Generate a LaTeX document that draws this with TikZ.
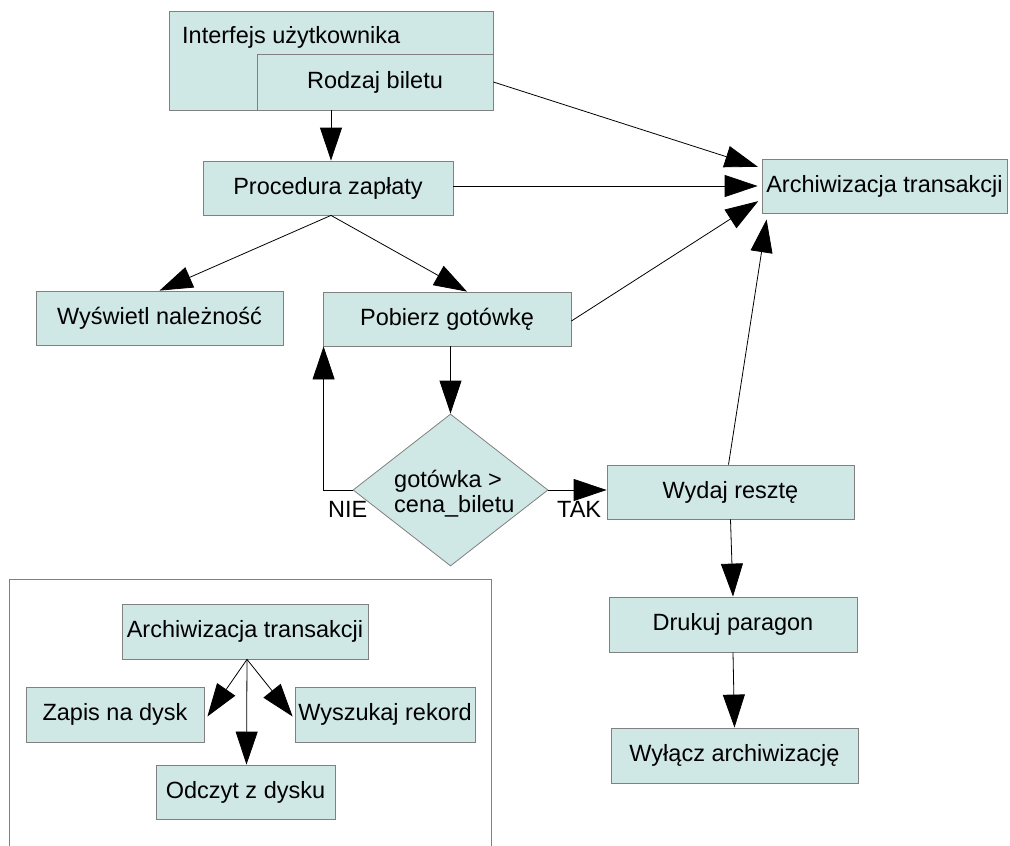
\documentclass[tikz,border=0pt]{standalone}
\usepackage{fontspec}
\setmainfont{Liberation Sans}
\usetikzlibrary{arrows.meta,calc,shapes.geometric}
\definecolor{boxfill}{RGB}{207,231,229}
\definecolor{boxline}{RGB}{128,128,128}
\begin{document}
\begin{tikzpicture}[x=1pt,y=-1pt,
  every node/.style={font=\fontsize{23.5}{25}\selectfont},
  box/.style={draw=boxline,fill=boxfill,line width=0.8pt,inner sep=0pt,minimum width=#1},
  box/.default=247pt,
  conn/.style={line width=0.8pt,-{Triangle[length=33pt,width=22pt]}},
  plain/.style={inner sep=0pt}]
\useasboundingbox (0,0) rectangle (1010,846);
% main boxes
\node[box=324pt,minimum height=99pt] (iface) at (331,60.5) {};
\node[plain,anchor=base west] (ifacetext) at (182,43) {Interfejs użytkownika};
\node[box=236pt,minimum height=56pt] (rodzaj) at (375,82) {Rodzaj biletu};
\node[box=250pt,minimum height=54pt] (proc) at (328,188) {Procedura zapłaty};
\node[box=245pt,minimum height=54pt] (arch) at (884.5,186) {Archiwizacja transakcji};
\node[box=247pt,minimum height=54pt] (wysw) at (159.5,318) {Wyświetl należność};
\node[box=248pt,minimum height=54pt] (pobierz) at (447,319) {Pobierz gotówkę};
\node[draw=boxline,fill=boxfill,line width=0.8pt,diamond,inner sep=0pt,
      minimum width=195pt,minimum height=152pt] (dia) at (450.5,490) {};
\node[plain,anchor=west,align=left] (diatext) at (394,494) {gotówka >\\cena\_biletu};
\node[box=247pt,minimum height=54pt] (wydaj) at (730.5,492) {Wydaj resztę};
\node[box=248pt,minimum height=55pt] (druk) at (733,624.5) {Drukuj paragon};
\node[box=247pt,minimum height=55pt] (wylacz) at (734.5,755.5) {Wyłącz archiwizację};
% frame
\draw[boxline,line width=0.8pt] (9,846) -- (9,579) -- (491,579) -- (491,846);
\node[box=246pt,minimum height=55pt] (arch2) at (245,631.5) {Archiwizacja transakcji};
\node[box=178pt,minimum height=55pt] (zapis) at (115,714.5) {Zapis na dysk};
\node[box=180pt,minimum height=55pt] (wysz) at (385,714.5) {Wyszukaj rekord};
\node[box=179pt,minimum height=54pt] (odczyt) at (245.5,792) {Odczyt z dysku};
% connectors
\draw[conn,shorten >=4pt] (rodzaj.east) -- ($(arch.west)+(0,-18)$);
\draw[conn,shorten >=4pt] (proc.east |- arch.west) -- (arch.west);
\draw[conn,shorten >=4pt] ($(pobierz.east)+(0,2)$) -- ($(arch.west)+(0,13)$);
\draw[conn] ($(wydaj.north)+(-2,0)$) -- ($(arch.south west)+(5,6)$);
\draw[conn] (iface.south) -- (iface.south |- proc.north);
\draw[conn] ($(proc.south)+(3,0)$) -- (wysw.north);
\draw[conn] ($(proc.south)+(3,0)$) -- ($(pobierz.north)+(20,0)$);
\draw[conn] (dia.north |- pobierz.south) -- (dia.north);
\draw[conn] (dia.west) -| ($(pobierz.south west)+(1,0)$);
\draw[conn] (dia.east) -- (dia.east -| wydaj.west);
\draw[conn] (wydaj.south) -- (druk.north);
\draw[conn] (druk.south) -- (wylacz.north);
\node[plain,anchor=base west] (nie) at (328,517) {NIE};
\node[plain,anchor=base west] (tak) at (557,517) {TAK};
\draw[conn] ($(arch2.south)+(2,0)$) -- ($(zapis.east)+(3,2)$);
\draw[conn] ($(arch2.south)+(2,0)$) -- ($(odczyt.north)+(1,0)$);
\draw[conn] ($(arch2.south)+(2,0)$) -- ($(wysz.west)+(-2,2)$);
\end{tikzpicture}
\end{document}
